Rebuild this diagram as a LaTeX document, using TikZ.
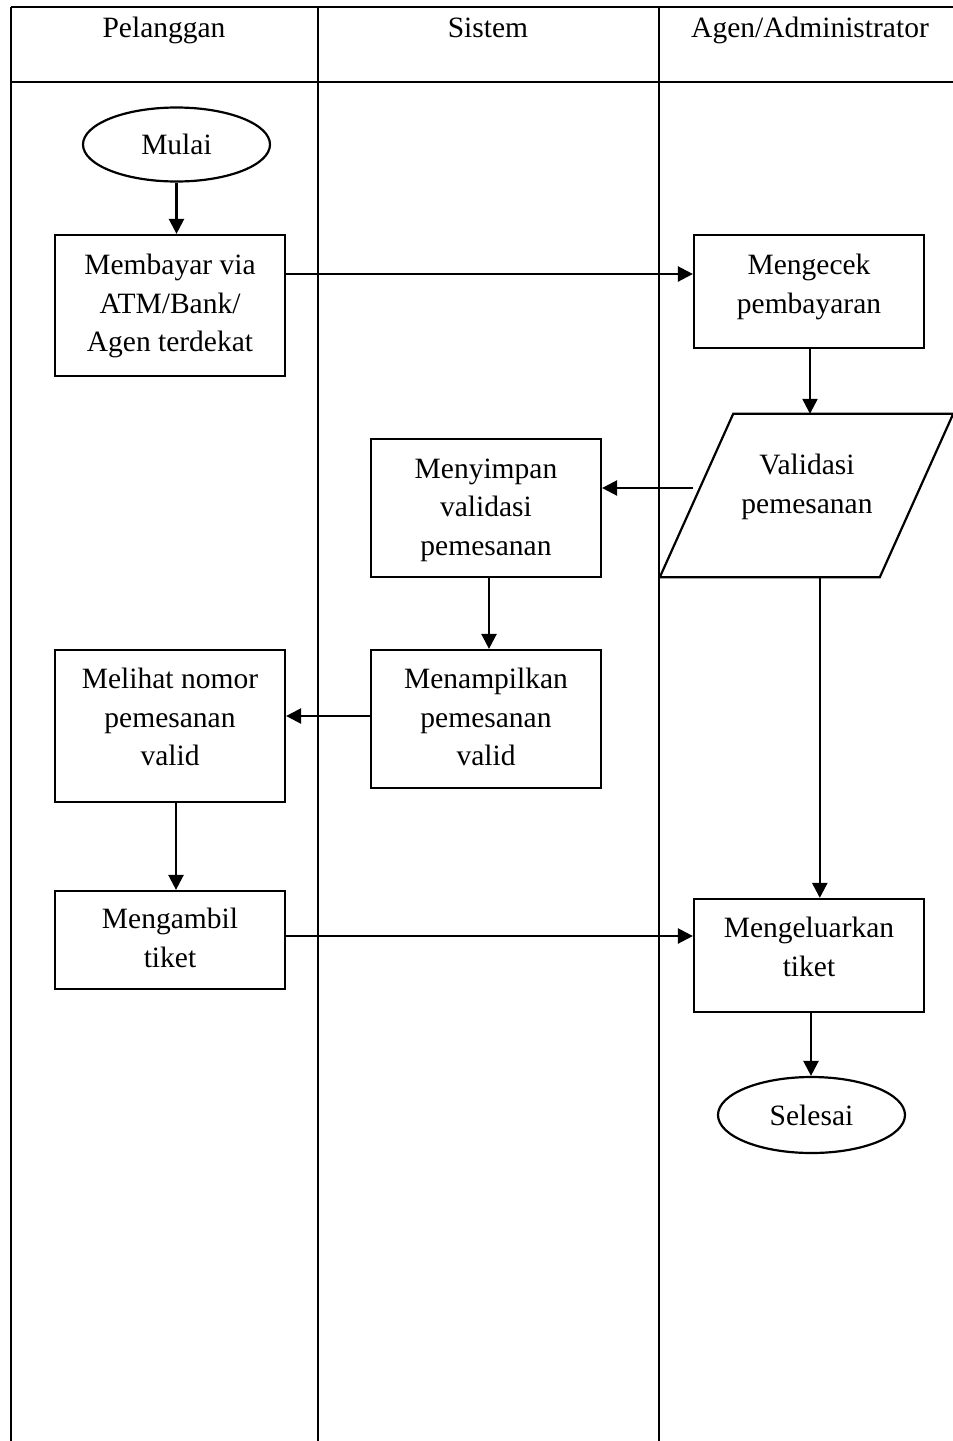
\documentclass[tikz,border=0pt]{standalone}
\usepackage{fontspec}
\setmainfont{Liberation Serif}
\usetikzlibrary{arrows.meta,shapes.geometric}
\begin{document}
\begin{tikzpicture}[x=1pt,y=-1pt,
  every node/.style={font=\fontsize{29.5}{38.6}\selectfont},
  lane/.style={line width=2.4pt},
  stepbox/.style={draw,line width=2.2pt,rectangle,inner sep=0pt,minimum width=230pt},
  term/.style={draw,line width=2.2pt,ellipse,inner sep=0pt},
  txt/.style={align=center,inner sep=0pt},
  arr/.style={line width=2.4pt,-{Triangle[length=15pt,width=15pt]}}]
\useasboundingbox (0,0) rectangle (953,1441);

% swimlane frame
\draw[lane] (11,7) -- (953,7);
\draw[lane] (11,82) -- (953,82);
\draw[lane] (11,7) -- (11,1441);
\draw[lane] (318,7) -- (318,1441);
\draw[lane] (659,7) -- (659,1441);
\node[txt,anchor=base] (h1) at (164,37) {Pelanggan};
\node[txt,anchor=base] (h2) at (488,37) {Sistem};
\node[txt,anchor=base] (h3) at (810,37) {Agen/Administrator};

% terminals
\node[term,minimum width=187pt,minimum height=74pt] (mulai) at (176.5,144.5) {Mulai};
\node[term,minimum width=187pt,minimum height=76pt] (selesai) at (811.5,1115) {Selesai};

% process boxes
\node[stepbox,minimum height=141pt] (b1) at (170,305.5) {};
\node[txt] (t1) at (170,306) {Membayar via\\ATM/Bank/\\Agen terdekat};
\node[stepbox,minimum height=113pt] (ck) at (809,291.5) {};
\node[txt] (t2) at (809,287) {Mengecek\\pembayaran};
\node[stepbox,minimum height=138pt] (sv) at (486,508) {};
\node[txt] (t3) at (486,510) {Menyimpan\\validasi\\pemesanan};
\node[stepbox,minimum height=138pt] (sp) at (486,719) {};
\node[txt] (t4) at (486,717) {Menampilkan\\pemesanan\\valid};
\node[stepbox,minimum height=152pt] (ml) at (170,726) {};
\node[txt] (t5) at (170,717) {Melihat nomor\\pemesanan\\valid};
\node[stepbox,minimum height=98pt] (ma) at (170,940) {};
\node[txt] (t6) at (170,938) {Mengambil\\tiket};
\node[stepbox,minimum height=113pt] (kl) at (809,955.5) {};
\node[txt] (t7) at (809,947) {Mengeluarkan\\tiket};

% input/output parallelogram
\node[inner sep=0pt,minimum width=293pt,minimum height=163pt] (val) at (806.5,495.5) {};
\draw[line width=2.2pt,line join=miter] (val.south west) -- ([xshift=220pt]val.south west)
  -- (val.north east) -- ([xshift=-220pt]val.north east) -- cycle;
\node[txt] (t8) at (807,487) {Validasi\\pemesanan};
\coordinate (valout) at (693,488);

% connectors
\draw[arr] (mulai.south) -- (mulai.south |- b1.north);
\draw[arr] ([yshift=31.5pt]b1.east) -- ([yshift=31.5pt]b1.east -| ck.west);
\draw[arr] ([xshift=1pt]ck.south) -- ([xshift=1pt]ck.south |- val.north);
\draw[arr] (valout) -- (valout -| sv.east);
\draw[arr] ([xshift=3pt]sv.south) -- ([xshift=3pt]sv.south |- sp.north);
\draw[arr] ([yshift=3pt]sp.west) -- ([yshift=3pt]sp.west -| ml.east);
\draw[arr] ([xshift=6pt]ml.south) -- ([xshift=6pt]ml.south |- ma.north);
\draw[arr] ([yshift=4pt]ma.east) -- ([yshift=4pt]ma.east -| kl.west);
\draw[arr] ([xshift=160pt]val.south west) -- ([xshift=160pt]val.south west |- kl.north);
\draw[arr] ([xshift=2pt]kl.south) -- ([xshift=2pt]kl.south |- selesai.north);
\end{tikzpicture}
\end{document}
